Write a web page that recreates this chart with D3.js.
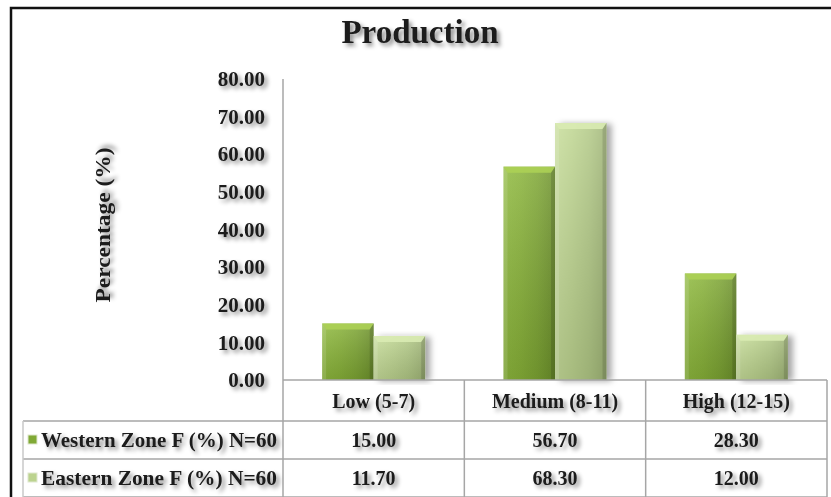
<!DOCTYPE html>
<html>
<head>
<meta charset="utf-8">
<script src="https://cdn.jsdelivr.net/npm/d3@7"></script>
<style>
  html, body { margin: 0; padding: 0; background: #fff; }
  svg { display: block; }
  text { font-family: "Liberation Serif", "Times New Roman", serif; font-weight: bold; fill: #1a1a1a; }
</style>
</head>
<body>
<div id="chart"></div>
<script>
  // chart data
  const categories = ['Low (5-7)', 'Medium (8-11)', 'High (12-15)'];
  const seriesNames = ['Western Zone F (%) N=60', 'Eastern Zone F (%) N=60'];
  const westernValues = [15.00, 56.70, 28.30];
  const easternValues = [11.70, 68.30, 12.00];
  const yTicks = [0, 10, 20, 30, 40, 50, 60, 70, 80];

  const width = 831, height = 497;
  const plot = { left: 283, right: 827, top: 79, bottom: 380 };
  const rowH = [380, 421, 459, 497];   // table row edges
  const tableLeft = 23;

  const seriesValues = [westernValues, easternValues];
  const fmt = d3.format('.2f');

  const svg = d3.select('#chart').append('svg')
    .attr('width', width).attr('height', height);

  const defs = svg.append('defs');

  // soft shadow used for text and bars
  const tShadow = defs.append('filter').attr('id', 'tshadow')
    .attr('x', '-20%').attr('y', '-40%').attr('width', '150%').attr('height', '200%');
  tShadow.append('feDropShadow').attr('dx', 3).attr('dy', 3)
    .attr('stdDeviation', 2.2).attr('flood-color', '#000').attr('flood-opacity', 0.45);

  const bShadow = defs.append('filter').attr('id', 'bshadow')
    .attr('x', '-20%').attr('y', '-10%').attr('width', '150%').attr('height', '120%');
  bShadow.append('feDropShadow').attr('dx', 5).attr('dy', 1)
    .attr('stdDeviation', 3).attr('flood-color', '#000').attr('flood-opacity', 0.35);

  const gShadow = defs.append('filter').attr('id', 'gshadow')
    .attr('x', '0').attr('y', '-200%').attr('width', '100%').attr('height', '600%');
  gShadow.append('feDropShadow').attr('dx', 0).attr('dy', 3)
    .attr('stdDeviation', 2).attr('flood-color', '#000').attr('flood-opacity', 0.12);

  const palettes = [
    { id: 'gWest', stops: ['#8fba3e', '#88b238', '#7da533', '#6c902b'], cap: '#acd055', swatch: '#80a936' },
    { id: 'gEast', stops: ['#c8de9b', '#bed590', '#b2c986', '#9fb476'], cap: '#d9ebb3', swatch: '#bcd38f' }
  ];
  palettes.forEach(p => {
    const lg = defs.append('linearGradient').attr('id', p.id)
      .attr('x1', '0').attr('y1', '0').attr('x2', '1').attr('y2', '0');
    p.stops.forEach((c, i) => lg.append('stop')
      .attr('offset', (i / (p.stops.length - 1) * 100) + '%').attr('stop-color', c));
    const vg = defs.append('linearGradient').attr('id', p.id + 'v')
      .attr('x1', '0').attr('y1', '0').attr('x2', '0').attr('y2', '1');
    vg.append('stop').attr('offset', '0%').attr('stop-color', '#fff').attr('stop-opacity', 0.15);
    vg.append('stop').attr('offset', '100%').attr('stop-color', '#000').attr('stop-opacity', 0.12);
  });

  // outer frame
  svg.append('rect')
    .attr('x', 11).attr('y', 8).attr('width', width + 20).attr('height', height + 20)
    .attr('fill', 'none').attr('stroke', '#111').attr('stroke-width', 2.5);

  // scales
  const y = d3.scaleLinear().domain([0, 80]).range([plot.bottom, plot.top]);
  const x0 = d3.scaleBand().domain(categories).range([plot.left, plot.right]).padding(0);
  const x1 = d3.scaleBand().domain(seriesNames).range([0, x0.bandwidth()])
    .paddingInner(0).paddingOuter(0.76);

  // title
  svg.append('text')
    .attr('x', 420).attr('y', 43)
    .attr('text-anchor', 'middle')
    .attr('font-size', 33)
    .attr('filter', 'url(#tshadow)')
    .text('Production');

  // gridlines
  svg.append('g').selectAll('line')
    .data(yTicks.filter(t => t > 0))
    .enter().append('line')
    .attr('x1', plot.left).attr('x2', plot.right)
    .attr('y1', d => y(d)).attr('y2', d => y(d))
    .attr('stroke', '#a8a8a8').attr('stroke-width', 1.5)
    .attr('filter', 'url(#gshadow)');

  // y axis with tick labels
  const yAxis = d3.axisLeft(y).tickValues(yTicks).tickFormat(fmt).tickSize(0).tickPadding(18);
  const yg = svg.append('g').attr('transform', `translate(${plot.left},0)`).call(yAxis);
  yg.select('.domain').remove();
  yg.selectAll('text')
    .attr('font-size', 21)
    .attr('font-family', '"Liberation Serif", serif')
    .attr('font-weight', 'bold')
    .attr('fill', '#1a1a1a')
    .attr('filter', 'url(#tshadow)');

  // y axis title
  svg.append('text')
    .attr('transform', `translate(110, 225) rotate(-90)`)
    .attr('text-anchor', 'middle')
    .attr('font-size', 21)
    .attr('textLength', 155)
    .attr('lengthAdjust', 'spacingAndGlyphs')
    .attr('filter', 'url(#tshadow)')
    .text('Percentage (%)');

  // bars
  const groups = svg.append('g').selectAll('g')
    .data(categories)
    .enter().append('g')
    .attr('transform', d => `translate(${x0(d)},0)`);

  const bars = groups.selectAll('g.bar')
    .data((c, ci) => seriesNames.map((s, si) => ({ s, si, v: seriesValues[si][ci] })))
    .enter().append('g').attr('class', 'bar');

  bars.append('rect')
    .attr('x', d => x1(d.s))
    .attr('y', d => y(d.v))
    .attr('width', x1.bandwidth())
    .attr('height', d => y(0) - y(d.v))
    .attr('fill', d => `url(#${palettes[d.si].id})`)
    .attr('filter', d => d.si === 1 ? 'url(#bshadow)' : null);

  bars.append('rect')
    .attr('x', d => x1(d.s))
    .attr('y', d => y(d.v))
    .attr('width', x1.bandwidth())
    .attr('height', d => y(0) - y(d.v))
    .attr('fill', d => `url(#${palettes[d.si].id}v)`);

  // bevelled top cap
  bars.append('path')
    .attr('d', d => {
      const bx = x1(d.s), by = y(d.v), bw = x1.bandwidth();
      return `M${bx},${by}H${bx + bw}L${bx + bw - 4},${by + 6}H${bx + 4}Z`;
    })
    .attr('fill', d => palettes[d.si].cap)
    .attr('opacity', 0.9);

  // side edges
  bars.append('path')
    .attr('d', d => {
      const bx = x1(d.s), by = y(d.v), bw = x1.bandwidth(), b = y(0);
      return `M${bx + bw},${by}L${bx + bw - 4},${by + 6}V${b}H${bx + bw}Z`;
    })
    .attr('fill', '#000').attr('opacity', 0.12);
  bars.append('path')
    .attr('d', d => {
      const bx = x1(d.s), by = y(d.v), b = y(0);
      return `M${bx},${by}L${bx + 4},${by + 6}V${b}H${bx}Z`;
    })
    .attr('fill', '#fff').attr('opacity', 0.12);

  // data table
  const tbl = svg.append('g');
  const lineColor = '#a6a6a6';
  // horizontal rules
  tbl.append('line').attr('x1', plot.left).attr('x2', plot.right)
    .attr('y1', rowH[0]).attr('y2', rowH[0]).attr('stroke', lineColor).attr('stroke-width', 1.5);
  rowH.slice(1).forEach(ry => {
    tbl.append('line').attr('x1', tableLeft).attr('x2', plot.right)
      .attr('y1', ry).attr('y2', ry).attr('stroke', lineColor).attr('stroke-width', 1.5);
  });
  // vertical rules
  tbl.append('line').attr('x1', plot.left).attr('x2', plot.left)
    .attr('y1', plot.top).attr('y2', rowH[3]).attr('stroke', lineColor).attr('stroke-width', 1.5);
  categories.forEach(c => {
    const xr = x0(c) + x0.bandwidth();
    tbl.append('line').attr('x1', xr).attr('x2', xr)
      .attr('y1', rowH[0]).attr('y2', rowH[3]).attr('stroke', lineColor).attr('stroke-width', 1.5);
  });
  tbl.append('line').attr('x1', tableLeft).attr('x2', tableLeft)
    .attr('y1', rowH[1]).attr('y2', rowH[3]).attr('stroke', '#c8c8c8').attr('stroke-width', 1.5);

  // header row labels
  tbl.selectAll('text.cat')
    .data(categories)
    .enter().append('text')
    .attr('class', 'cat')
    .attr('x', d => x0(d) + x0.bandwidth() / 2)
    .attr('y', (rowH[0] + rowH[1]) / 2 + 7)
    .attr('text-anchor', 'middle')
    .attr('font-size', 20)
    .attr('filter', 'url(#tshadow)')
    .text(d => d);

  // series rows
  seriesNames.forEach((s, si) => {
    const cy = (rowH[si + 1] + rowH[si + 2]) / 2;
    tbl.append('rect')
      .attr('x', tableLeft + 5).attr('y', cy - 5)
      .attr('width', 9).attr('height', 9)
      .attr('fill', palettes[si].swatch)
      .attr('stroke', '#e0e8d0').attr('stroke-width', 1);
    tbl.append('text')
      .attr('x', tableLeft + 18).attr('y', cy + 7)
      .attr('font-size', 20)
      .attr('textLength', 236)
      .attr('lengthAdjust', 'spacingAndGlyphs')
      .attr('filter', 'url(#tshadow)')
      .text(s);
    tbl.selectAll('text.v' + si)
      .data(categories)
      .enter().append('text')
      .attr('class', 'v' + si)
      .attr('x', d => x0(d) + x0.bandwidth() / 2)
      .attr('y', cy + 7)
      .attr('text-anchor', 'middle')
      .attr('font-size', 20)
      .attr('filter', 'url(#tshadow)')
      .text((d, ci) => fmt(seriesValues[si][ci]));
  });
</script>
</body>
</html>
